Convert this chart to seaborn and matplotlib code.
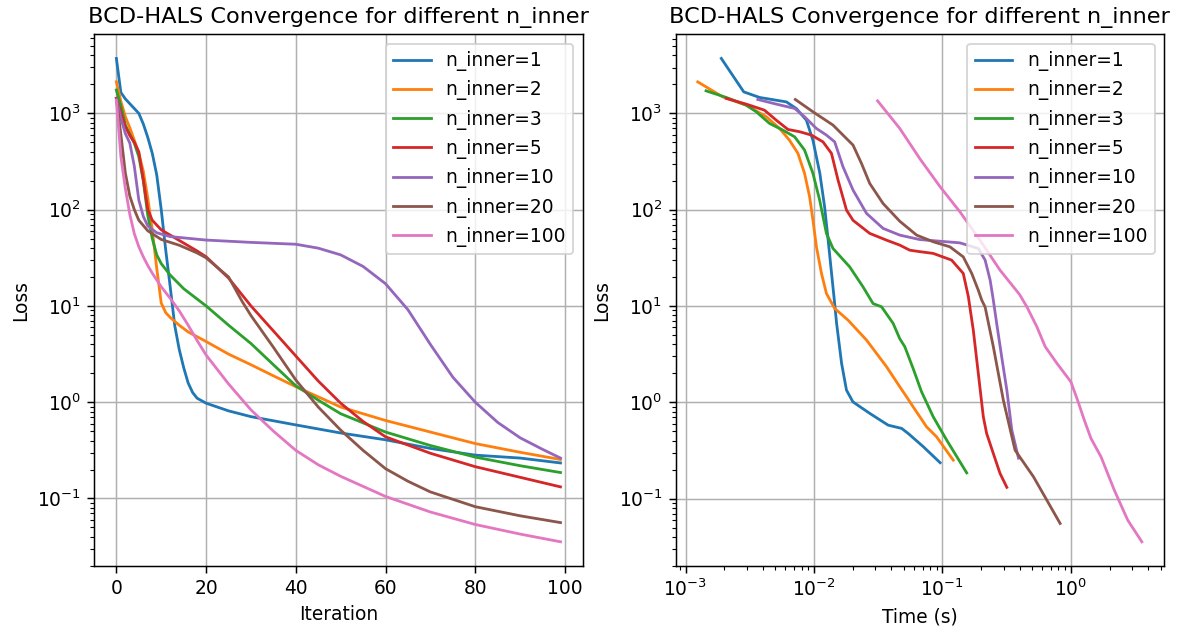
import matplotlib
matplotlib.use("Agg")
import matplotlib.pyplot as plt
import seaborn as sns

# ---------------- data ----------------
labels = ["n_inner=1", "n_inner=2", "n_inner=3", "n_inner=5",
          "n_inner=10", "n_inner=20", "n_inner=100"]
colors = ["#1f77b4", "#ff7f0e", "#2ca02c", "#d62728",
          "#9467bd", "#8c564b", "#e377c2"]

# Left panel: loss vs iteration
it_n1 = [0, 1, 2, 3, 4, 5, 6, 7, 8, 9, 10, 11, 12, 13, 14, 15, 16, 17, 18, 20, 25, 30, 40, 50, 60, 70, 80, 90, 99]
loss_it_n1 = [3715, 1650, 1413, 1259, 1122, 1000, 776, 562, 385, 229, 100, 38, 15.8, 6.3, 3.55, 2.29, 1.585, 1.26, 1.10,
              0.977, 0.813, 0.708, 0.581, 0.479, 0.407, 0.331, 0.282, 0.263, 0.234]

it_n2 = [0, 1, 2, 3, 4, 5, 6, 7, 8, 9, 10, 11, 12, 14, 16, 20, 25, 30, 35, 40, 50, 60, 70, 80, 90, 99]
loss_it_n2 = [2128, 1334, 923, 708, 525, 385, 251, 132, 61.7, 24.5, 10.7, 8.51, 7.59, 6.31, 5.37, 4.27, 3.16, 2.45,
              1.88, 1.45, 0.891, 0.646, 0.490, 0.372, 0.302, 0.254]

it_n3 = [0, 1, 2, 3, 4, 5, 6, 7, 8, 9, 10, 12, 15, 20, 25, 30, 35, 40, 45, 50, 60, 70, 80, 90, 99]
loss_it_n3 = [1746, 1202, 759, 603, 490, 355, 200, 87.1, 50.1, 33.9, 27.5, 20.9, 15.1, 10.0, 6.31, 4.07, 2.45, 1.48,
              1.05, 0.759, 0.490, 0.355, 0.269, 0.219, 0.186]

it_n5 = [0, 1, 2, 3, 4, 5, 6, 7, 8, 10, 14, 18, 20, 25, 30, 35, 40, 45, 50, 55, 60, 70, 80, 90, 99]
loss_it_n5 = [1432, 1023, 724, 589, 501, 398, 204, 100, 77.6, 61.7, 47.9, 37.2, 32.4, 19.5, 10.0, 5.50, 3.02, 1.66,
              0.977, 0.631, 0.437, 0.295, 0.214, 0.166, 0.132]

it_n10 = [0, 1, 2, 3, 4, 5, 6, 7, 9, 12, 20, 30, 40, 45, 50, 55, 60, 65, 70, 75, 80, 85, 90, 95, 99]
loss_it_n10 = [1432, 891, 617, 490, 282, 126, 85.1, 67.6, 57.5, 52.5, 48.3, 45.7, 43.7, 39.8, 33.9, 25.7, 17.0, 9.12,
               3.98, 1.82, 1.0, 0.617, 0.427, 0.324, 0.263]

it_n20 = [0, 1, 2, 3, 4, 5, 7, 10, 14, 18, 20, 25, 28, 30, 35, 40, 45, 50, 55, 60, 65, 70, 80, 90, 99]
loss_it_n20 = [1432, 603, 240, 138, 100, 77.6, 60.3, 49.0, 42.7, 35.5, 31.6, 20.0, 11.2, 7.94, 3.72, 1.70, 0.891,
               0.513, 0.316, 0.204, 0.151, 0.117, 0.0822, 0.0661, 0.0562]

it_n100 = [0, 1, 2, 3, 4, 5, 6, 7, 8, 9, 10, 12, 14, 16, 18, 20, 25, 30, 35, 40, 45, 50, 60, 70, 80, 90, 99]
loss_it_n100 = [1374, 355, 166, 89.1, 56.2, 41.2, 32.4, 26.3, 21.9, 18.6, 15.8, 12.0, 8.91, 6.31, 4.37, 3.09, 1.55,
                0.832, 0.501, 0.316, 0.224, 0.170, 0.105, 0.0724, 0.0537, 0.0427, 0.0355]

# Right panel: loss vs wall-clock time (s)
t_n1 = [0.0019, 0.00284, 0.00377, 0.0061, 0.0073, 0.00873, 0.00982, 0.0111, 0.0121, 0.0129, 0.0137, 0.0143, 0.0150,
        0.0164, 0.0179, 0.0201, 0.0272, 0.0378, 0.0481, 0.0541, 0.0708, 0.0959]
loss_t_n1 = [3724, 1675, 1466, 1318, 1122, 851, 525, 240, 107, 47.9, 21.9, 12.6, 6.6, 2.54, 1.34, 1.01, 0.767,
             0.579, 0.536, 0.475, 0.347, 0.236]

t_n2 = [0.001245, 0.00195, 0.00297, 0.00426, 0.0054, 0.00646, 0.0075, 0.00845, 0.00925, 0.00982, 0.01045, 0.01143,
        0.0125, 0.01449, 0.01841, 0.02564, 0.03673, 0.04656, 0.0526, 0.05916, 0.06668, 0.07516, 0.08995, 0.1213]
loss_t_n2 = [2128, 1486, 1219, 923, 698, 525, 385, 238, 136, 77.6, 41.2, 21.9, 13.5, 9.44, 7.14, 4.43, 2.34, 1.45,
             1.14, 0.897, 0.708, 0.557, 0.439, 0.251]

t_n3 = [0.001445, 0.002075, 0.00297, 0.003556, 0.00451, 0.00573, 0.00708, 0.00845, 0.00982, 0.01107, 0.0125,
        0.01406, 0.01897, 0.0241, 0.02884, 0.03357, 0.0413, 0.04656, 0.05093, 0.05916, 0.0687, 0.08472, 0.1079,
        0.1545]
loss_t_n3 = [1718, 1466, 1219, 1040, 787, 671, 571, 416, 238, 126, 56.8, 39.6, 25.5, 15.8, 10.6, 9.82, 6.61, 4.57,
             3.78, 2.24, 1.29, 0.708, 0.405, 0.185]

t_n5 = [0.002075, 0.00297, 0.00412, 0.00509, 0.00627, 0.00773, 0.00955, 0.01175, 0.01368, 0.01538, 0.01791,
        0.02014, 0.02716, 0.03673, 0.04656, 0.05572, 0.06668, 0.08472, 0.1178, 0.1452, 0.1589, 0.1738, 0.1901,
        0.208, 0.2208, 0.2489, 0.2805, 0.317]
loss_t_n5 = [1432, 1250, 1081, 851, 682, 646, 596, 507, 385, 204, 99.1, 77.6, 56.8, 48.3, 42.9, 38.0, 36.7, 35.2,
             30.0, 21.8, 12.6, 5.62, 2.0, 0.708, 0.475, 0.294, 0.183, 0.131]

t_n10 = [0.003656, 0.00509, 0.00708, 0.00845, 0.01045, 0.0125, 0.01449, 0.01683, 0.02014, 0.02564, 0.03451,
         0.04656, 0.06668, 0.1368, 0.1901, 0.2148, 0.235, 0.2489, 0.2642, 0.2891, 0.317, 0.3467, 0.3908]
loss_t_n10 = [1396, 1250, 1127, 923, 698, 596, 507, 279, 160, 91.6, 64.0, 54.5, 49.0, 45.3, 39.6, 30.0, 18.6,
              11.5, 6.61, 2.97, 1.34, 0.514, 0.263]

t_n20 = [0.00716, 0.00982, 0.01406, 0.02014, 0.02344, 0.02716, 0.03451, 0.04656, 0.06295, 0.08472, 0.1143,
         0.1452, 0.169, 0.1901, 0.2023, 0.2148, 0.2489, 0.2979, 0.3673, 0.5105, 0.6486, 0.8241]
loss_t_n20 = [1396, 1040, 757, 469, 302, 187.5, 116, 75.9, 54.5, 46.5, 41.2, 32.4, 21.8, 14.6, 11.5, 9.77, 3.78,
              1.05, 0.319, 0.169, 0.0966, 0.0552]

t_n100 = [0.03126, 0.04656, 0.06668, 0.09594, 0.1368, 0.1959, 0.2805, 0.398, 0.4539, 0.5433, 0.631, 0.778, 1.0,
          1.127, 1.271, 1.432, 1.714, 2.178, 2.767, 3.565]
loss_t_n100 = [1352, 698, 339, 173, 95.1, 48.3, 23.6, 13.2, 9.82, 6.08, 3.78, 2.54, 1.63, 1.05, 0.653, 0.422,
               0.272, 0.122, 0.0598, 0.0356]

iter_series = [(it_n1, loss_it_n1), (it_n2, loss_it_n2), (it_n3, loss_it_n3), (it_n5, loss_it_n5),
               (it_n10, loss_it_n10), (it_n20, loss_it_n20), (it_n100, loss_it_n100)]
time_series = [(t_n1, loss_t_n1), (t_n2, loss_t_n2), (t_n3, loss_t_n3), (t_n5, loss_t_n5),
               (t_n10, loss_t_n10), (t_n20, loss_t_n20), (t_n100, loss_t_n100)]

# ---------------- figure ----------------
DPI = 134
fig, axes = plt.subplots(1, 2, figsize=(1186 / DPI, 634 / DPI), dpi=DPI)
fig.subplots_adjust(left=0.0794, right=0.9815, bottom=0.1073, top=0.9459, wspace=0.19)

ax1, ax2 = axes
for (x, y), lab, c in zip(iter_series, labels, colors):
    sns.lineplot(x=x, y=y, ax=ax1, color=c, label=lab, linewidth=1.5, estimator=None)
for (x, y), lab, c in zip(time_series, labels, colors):
    sns.lineplot(x=x, y=y, ax=ax2, color=c, label=lab, linewidth=1.5, estimator=None)

ax1.set_yscale("log")
ax1.set_xlabel("Iteration")
ax1.set_ylabel("Loss")
ax1.set_title("BCD-HALS Convergence for different n_inner")
ax1.grid(True)
ax1.legend(loc="upper right")

ax2.set_xscale("log")
ax2.set_yscale("log")
ax2.set_xlabel("Time (s)")
ax2.set_ylabel("Loss")
ax2.set_title("BCD-HALS Convergence for different n_inner")
ax2.grid(True)
ax2.legend(loc="upper right")

fig.savefig("out.png", dpi=DPI)
